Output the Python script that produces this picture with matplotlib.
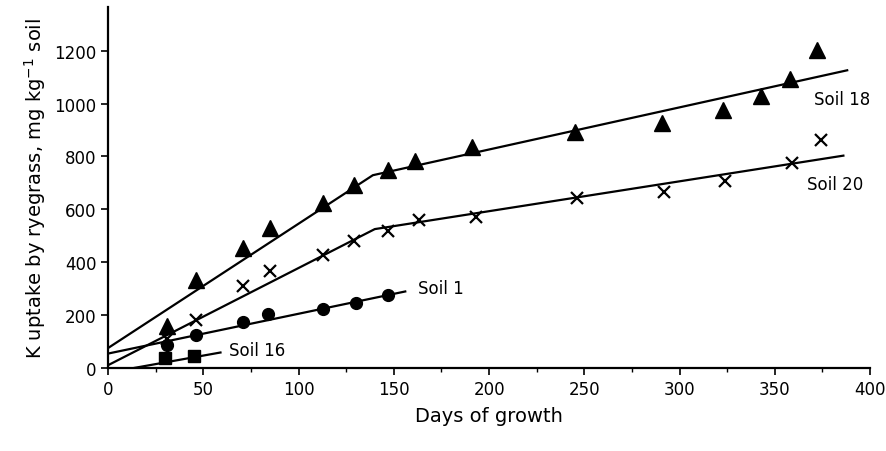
import matplotlib
matplotlib.use('Agg')
import matplotlib.pyplot as plt
from matplotlib.ticker import MultipleLocator

s18_days = [31, 46, 71, 85, 113, 129, 147, 161, 191, 245, 291, 323, 343, 358, 372]
s18_k = [160, 333, 453, 528, 623, 692, 748, 782, 836, 893, 928, 975, 1028, 1094, 1201]

s20_days = [31, 46, 71, 85, 113, 129, 147, 163, 193, 246, 292, 324, 359, 374]
s20_k = [110, 182, 308, 365, 428, 480, 519, 560, 572, 644, 664, 707, 777, 862]

s1_days = [31, 46, 71, 84, 113, 130, 147]
s1_k = [85, 123, 174, 204, 224, 245, 277]

s16_days = [30, 45]
s16_k = [38, 46]

# fitted lines (broken-stick for 18 and 20)
fit18_days = [0, 139, 388]
fit18_k = [75, 729, 1126]
fit20_days = [0, 140, 386]
fit20_k = [10, 525, 803]
fit1_days = [0, 156]
fit1_k = [54, 289]
fit16_days = [14, 59]
fit16_k = [0, 58]

plt.rcParams['font.family'] = 'DejaVu Sans'

fig = plt.figure(figsize=(8.86, 4.52), dpi=100)
ax = fig.add_axes([0.122, 0.184, 0.860, 0.798])

lw = 1.6
ax.plot(fit18_days, fit18_k, color='black', lw=lw)
ax.plot(fit20_days, fit20_k, color='black', lw=lw)
ax.plot(fit1_days, fit1_k, color='black', lw=lw)
ax.plot(fit16_days, fit16_k, color='black', lw=lw)

ax.plot(s18_days, s18_k, ls='none', marker='^', ms=11, color='black')
ax.plot(s20_days, s20_k, ls='none', marker='x', ms=8, mew=1.6, color='black')
ax.plot(s1_days, s1_k, ls='none', marker='o', ms=8.5, color='black')
ax.plot(s16_days, s16_k, ls='none', marker='s', ms=8, color='black')

fs = 12
ax.text(370.5, 1019, 'Soil 18', fontsize=fs, va='center', ha='left')
ax.text(367, 694, 'Soil 20', fontsize=fs, va='center', ha='left')
ax.text(162.5, 302, 'Soil 1', fontsize=fs, va='center', ha='left')
ax.text(63.5, 68, 'Soil 16', fontsize=fs, va='center', ha='left')

ax.set_xlim(0, 400)
ax.set_ylim(0, 1365)
ax.xaxis.set_major_locator(MultipleLocator(50))
ax.xaxis.set_minor_locator(MultipleLocator(25))
ax.yaxis.set_major_locator(MultipleLocator(200))

for s in ['top', 'right']:
    ax.spines[s].set_visible(False)
for s in ['left', 'bottom']:
    ax.spines[s].set_linewidth(1.6)

ax.tick_params(axis='both', which='major', labelsize=fs, width=1.2, length=5, direction='out')
ax.tick_params(axis='x', which='minor', width=1.0, length=3, direction='out')

ax.set_xlabel('Days of growth', fontsize=14, labelpad=6)
ax.set_ylabel('K uptake by ryegrass, mg kg$^{-1}$ soil', fontsize=14, labelpad=4)

fig.savefig('out.png', dpi=100)
